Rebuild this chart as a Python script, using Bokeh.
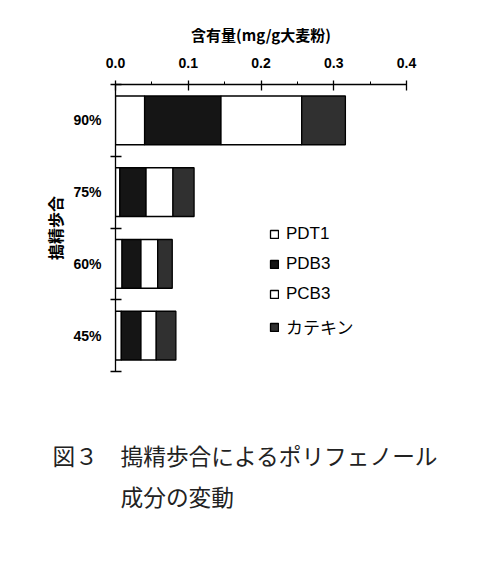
from bokeh.plotting import figure
from bokeh.models import (ColumnDataSource, Range1d, FixedTicker, PrintfTickFormatter,
                          Legend, LegendItem, Title)
from bokeh.embed import file_html
from bokeh.resources import INLINE

# ---- data ----
rates = ["90%", "75%", "60%", "45%"]          # top to bottom
series = ["PDT1", "PDB3", "PCB3", "カテキン"]
pdt1 = [0.040, 0.006, 0.009, 0.008]
pdb3 = [0.105, 0.036, 0.026, 0.027]
pcb3 = [0.111, 0.037, 0.023, 0.021]
catechin = [0.060, 0.029, 0.020, 0.027]
x_ticks = [0.0, 0.1, 0.2, 0.3, 0.4]
x_title = "含有量(mg/g大麦粉)"
y_title = "搗精歩合"
caption_lines = ["図３　搗精歩合によるポリフェノール", "　　　成分の変動"]

n = len(rates)
ypos = [n - i - 0.5 for i in range(n)]
src = ColumnDataSource(dict(y=ypos, PDT1=pdt1, PDB3=pdb3, PCB3=pcb3, CAT=catechin))

p = figure(width=484, height=555, output_backend="svg", toolbar_location=None,
           x_range=Range1d(0, 0.4), y_range=Range1d(0, n),
           x_axis_location="above",
           min_border_left=115, min_border_right=78, min_border_top=84,
           min_border_bottom=184)
p.outline_line_color = None
p.xgrid.visible = False
p.ygrid.visible = False
p.background_fill_color = "white"
p.border_fill_color = "white"

fills = ["white", "#151515", "white", "#303030"]
rs = p.hbar_stack(["PDT1", "PDB3", "PCB3", "CAT"], y="y", height=0.68, source=src,
                  fill_color=fills, line_color="black", line_width=1.3)

# x axis (top)
xa = p.xaxis[0]
xa.ticker = FixedTicker(ticks=x_ticks,
                        minor_ticks=[t + 0.05 for t in x_ticks[:-1]])
xa.formatter = PrintfTickFormatter(format="%.1f")
xa.major_tick_out = 4
xa.major_tick_in = 6
xa.minor_tick_out = 3
xa.minor_tick_in = 0
xa.axis_line_width = 1.3
xa.major_tick_line_width = 1.3
xa.major_label_text_font = "Liberation Sans"
xa.major_label_text_font_style = "bold"
xa.major_label_text_font_size = "14px"
xa.major_label_text_color = "black"
xa.major_label_standoff = 13
xa.axis_label = x_title
xa.axis_label_text_font = "Noto Sans CJK JP"
xa.axis_label_text_font_style = "bold"
xa.axis_label_text_font_size = "15px"
xa.axis_label_text_color = "black"
xa.axis_label_standoff = 10

# y axis (left), ticks at category boundaries
ya = p.yaxis[0]
ya.ticker = FixedTicker(ticks=ypos, minor_ticks=list(range(n + 1)))
ya.major_label_overrides = {y: r for y, r in zip(ypos, rates)}
ya.major_tick_out = 0
ya.major_tick_in = 0
ya.minor_tick_out = 5
ya.minor_tick_in = 6
ya.axis_line_width = 1.3
ya.minor_tick_line_width = 1.3
ya.major_label_text_font = "Liberation Sans"
ya.major_label_text_font_style = "bold"
ya.major_label_text_font_size = "14px"
ya.major_label_text_color = "black"
ya.major_label_standoff = 9
ya.axis_label = y_title
ya.axis_label_text_font = "Noto Sans CJK JP"
ya.axis_label_text_font_style = "bold"
ya.axis_label_text_font_size = "16px"
ya.axis_label_text_color = "black"
ya.axis_label_standoff = 3

legend = Legend(items=[LegendItem(label=s, renderers=[r]) for s, r in zip(series, rs)],
                location=(154, 32), orientation="vertical",
                glyph_width=10, glyph_height=10, label_standoff=7,
                spacing=10, padding=0, margin=0,
                border_line_color=None, background_fill_alpha=0,
                label_text_font="'Liberation Sans', 'Noto Sans CJK JP'",
                label_text_font_size="17px", label_text_color="black")
p.add_layout(legend)

# caption below the chart (leading empty line pushes it down)
p.add_layout(Title(text="\n" + "\n".join(caption_lines), align="left", offset=-63,
                   standoff=50, text_font="Noto Sans CJK JP", text_font_size="22.7px",
                   text_line_height=1.246,
                   text_font_style="normal", text_color="#222222"), "below")

open("out.html", "w").write(file_html(p, INLINE))
